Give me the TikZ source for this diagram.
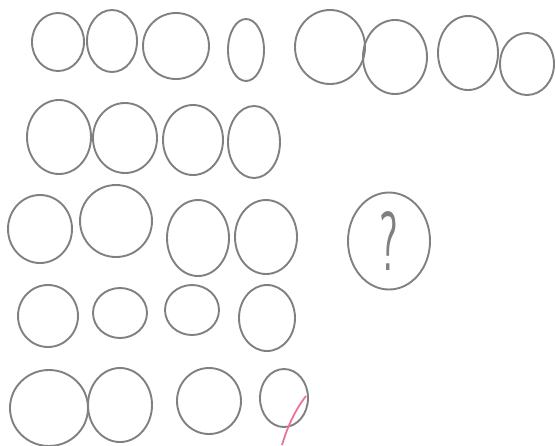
\documentclass[tikz,border=0pt]{standalone}
\usepackage{tikz}
\usetikzlibrary{shapes.geometric}
\definecolor{pencil}{gray}{0.5}
\definecolor{marker}{RGB}{235,115,160}

\tikzset{
    blob/.style={ellipse, draw=pencil, line width=1.9pt, inner sep=0pt},
}

\begin{document}
\begin{tikzpicture}[x=1pt, y=-1pt]
    \useasboundingbox (0,0) rectangle (556,445);

    % Circles: name/x/y/x radius/y radius
    \foreach \n/\x/\y/\rx/\ry in {
        1/58/42/26/29, 2/112/41/25/31, 3/176/46/33/33, 4/246/50/18/31,
        5/330/47/35/37, 6/395/57/32/37, 7/468/53/30/37, 8/527/64/27/31,
        9/59/137/32/37, 10/125/138/32/35, 11/193/140/30/35, 12/254/142/26/36,
        13/40/229/32/34, 14/116/221/36/36, 15/198/238/31/38, 16/266/237/31/37,
        17/48/316/30/31, 18/120/313/27/25, 19/192/310/27/25, 20/267/318/28/33,
        21/49/408/39/38, 22/120/405/32/37, 23/209/401/32/33, 24/284/398/24/29}
        \node[blob, minimum width=2*\rx pt, minimum height=2*\ry pt] (c\n) at (\x,\y) {};

    % Odd one out
    \node[blob, minimum width=82pt, minimum height=97pt] (ask) at (389,241)
        {\color{pencil}\sffamily\scalebox{0.5}[1]{\fontsize{84}{84}\selectfont ?}};

    % Pink stroke through the last circle
    \coordinate (mtop) at (306,396);
    \coordinate (mbot) at (282,445);
    \draw[marker, line width=1.8pt] (mtop) .. controls (295,410) and (287,428) .. (mbot);
\end{tikzpicture}
\end{document}
